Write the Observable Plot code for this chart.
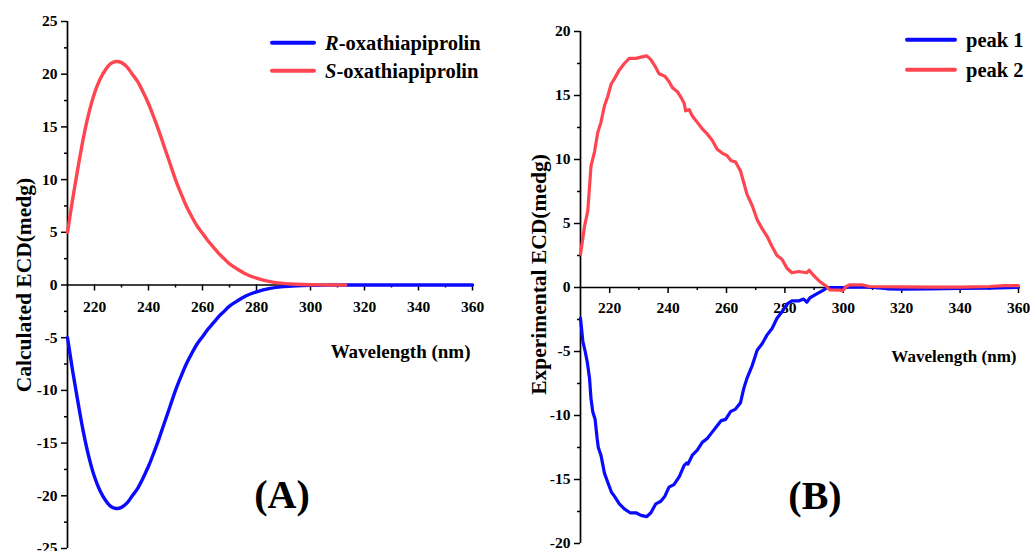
<!DOCTYPE html>
<html><head><meta charset="utf-8">
<script src="https://cdn.jsdelivr.net/npm/d3@7"></script>
<script src="https://cdn.jsdelivr.net/npm/@observablehq/plot@0.6"></script>
<style>
body{margin:0;background:#fff;}
#wrap{position:relative;width:1030px;height:551px;overflow:hidden;font-family:"Liberation Serif","Times New Roman",serif;font-weight:bold;color:#000;}
.panel{position:absolute;top:0;}
.leg{position:absolute;display:flex;align-items:center;font-size:20.5px;font-weight:bold;white-space:nowrap;line-height:1;transform:translateY(-50%);}
.leg .sw{display:inline-block;height:4px;margin-right:9px;border-radius:2px;}
.tag{position:absolute;font-size:40px;font-weight:bold;transform:translate(-50%,-50%);line-height:1;}
</style></head><body><div id="wrap"></div>
<script>
// ---------- data ----------
const xMajor = [220, 240, 260, 280, 300, 320, 340, 360];
const xMinor = [230, 250, 270, 290, 310, 330, 350];
const yMajorA = [-25, -20, -15, -10, -5, 0, 5, 10, 15, 20, 25];
const yMinorA = [-22.5, -17.5, -12.5, -7.5, -2.5, 2.5, 7.5, 12.5, 17.5, 22.5];
const yMajorB = [-20, -15, -10, -5, 0, 5, 10, 15, 20];
const yMinorB = [-17.5, -12.5, -7.5, -2.5, 2.5, 7.5, 12.5, 17.5];

const seriesA = ["R-oxathiapiprolin", "S-oxathiapiprolin"];
const seriesB = ["peak 1", "peak 2"];
const colors = ["#0a0aff", "#ff4550"];

// Calculated ECD (panel A)
const calcWlS = [210,212,214,216,218,220,222,224,226,228,230,232,234,236,238,240,242,244,246,248,250,252,254,256,258,260,262,264,266,268,270,273,276,280,285,290,295,300,305,313];
const calcS   = [5.0,8.3,11.3,14.1,16.4,18.2,19.5,20.4,21.0,21.2,21.1,20.7,20.0,19.3,18.3,17.2,15.9,14.5,13.0,11.5,10.0,8.7,7.5,6.5,5.6,4.9,4.2,3.6,3.0,2.5,2.0,1.5,1.05,0.65,0.32,0.15,0.07,0.03,0.01,0];
const calcWlR = [210,212,214,216,218,220,222,224,226,228,230,232,234,236,238,240,242,244,246,248,250,252,254,256,258,260,262,264,266,268,270,273,276,280,285,290,295,300,305,313,320,340,360];
const calcR   = [-5.0,-8.3,-11.3,-14.1,-16.4,-18.2,-19.5,-20.4,-21.0,-21.2,-21.1,-20.7,-20.0,-19.3,-18.3,-17.2,-15.9,-14.5,-13.0,-11.5,-10.0,-8.7,-7.5,-6.5,-5.6,-4.9,-4.2,-3.6,-3.0,-2.5,-2.0,-1.5,-1.05,-0.65,-0.32,-0.15,-0.07,-0.03,-0.01,0,0,0,0];

// Experimental ECD (panel B)
const expWl1 = [210,210.8,211.6,212.3,213.1,213.6,214.2,215,215.7,216.1,217,218.2,219.3,220.6,221.6,223.3,225,227,229,230.7,232.7,234.1,235.8,237.5,238.9,240.3,242,243.8,245.5,246.4,246.8,248.3,250,251.7,253.4,255.1,256.8,258.2,259.7,261.4,263.1,264.8,265.9,267,268.8,270.5,272.2,273.9,275.6,277.3,279,280.7,282.4,284.7,286.4,287.5,288.6,290.9,293.2,294.5,300,305,310,315,320,330,340,350,360];
const expPeak1 = [-2.4,-4.2,-5.0,-5.8,-7.1,-8.7,-9.7,-10.3,-11.8,-12.5,-13.1,-14.5,-15.2,-16.0,-16.3,-16.9,-17.3,-17.6,-17.6,-17.8,-17.9,-17.6,-16.9,-16.7,-16.3,-15.6,-15.4,-14.8,-13.9,-13.7,-13.8,-13.1,-12.7,-12.1,-11.8,-11.3,-10.8,-10.4,-10.3,-9.7,-9.5,-9.0,-7.9,-7.1,-6.1,-4.9,-4.4,-3.7,-3.2,-2.4,-1.9,-1.3,-1.05,-1.05,-0.9,-1.15,-0.8,-0.5,-0.2,0.0,0.0,0.05,0.0,-0.1,-0.12,-0.1,-0.08,-0.05,0.0];
const expWl2 = [210,211.4,212.5,213.6,214.8,215.9,217,218.2,219.3,220.5,221.6,223.3,225,226.7,229,230.7,232.7,234.1,235.5,236.9,238.9,240.3,241.5,243.2,244.3,245.5,246,247.2,248.3,250,251.7,253.4,255.1,256.8,258.5,260.2,261.6,263.1,264.8,265.9,267,268.8,270.5,272.2,273.9,275.6,277.3,279,280.7,282.4,284.7,287.5,288.3,289.8,291.9,294.2,295.3,298.7,299.8,301,302.1,306.7,308.9,320,330,340,350,355,360];
const expPeak2 = [2.6,4.8,6.0,9.5,10.6,12.1,12.9,14.2,14.9,15.9,16.3,17.0,17.5,17.9,17.9,18.0,18.1,17.8,17.3,16.7,16.5,16.1,15.6,15.3,14.9,14.4,13.8,13.9,13.4,12.9,12.4,12.0,11.5,10.8,10.5,10.3,9.9,9.8,9.1,8.2,7.3,6.4,5.3,4.6,4.0,3.2,2.5,2.2,1.5,1.15,1.25,1.15,1.35,0.95,0.47,0.1,-0.18,-0.2,-0.26,0.08,0.2,0.2,0.08,0.05,0.03,0.03,0.08,0.15,0.15];

// ---------- drawing ----------
const FONT = "'Liberation Serif','Times New Roman',serif";
const toRows = (wl, v) => wl.map((w, i) => ({w, v: v[i]}));
const fmt = d => String(d); // plain hyphen-minus, as in the reference

function panel(o) {
  return Plot.plot({
    width: o.width, height: 551,
    marginLeft: o.ml, marginRight: o.mr, marginTop: o.mt, marginBottom: o.mb,
    style: {fontFamily: FONT, fontWeight: "bold", fontSize: "15.5px", color: "#000", background: "transparent", overflow: "visible"},
    x: {domain: [210, 360], axis: null},
    y: {domain: o.yDomain},
    marks: [
      Plot.axisY(o.yMajor, {tickSize: 6, tickPadding: 4, label: null, strokeWidth: 1.5, fontSize: 15.5, tickFormat: fmt}),
      Plot.axisY(o.yMinor, {tickSize: 3, fill: "none", label: null, strokeWidth: 1.5}),
      Plot.ruleX([210], {stroke: "#000", strokeWidth: 1.7}),
      Plot.ruleY([0], {stroke: "#000", strokeWidth: 1.7}),
      Plot.ruleX(xMajor, {x: d => d, y1: 0, y2: 0, insetBottom: -6, stroke: "#000", strokeWidth: 1.5}),
      Plot.ruleX(xMinor, {x: d => d, y1: 0, y2: 0, insetBottom: -3, stroke: "#000", strokeWidth: 1.5}),
      Plot.text(xMajor, {x: d => d, y: 0, dy: o.tickDy, text: fmt, fontSize: 15.5, fill: "#000"}),
      ...o.lines,
      Plot.text([o.xTitle], {x: 360, y: 0, dy: o.xTitleDy, dx: -2, textAnchor: "end", fontSize: o.xTitleSize, fill: "#000"}),
      Plot.text([o.yTitle], {frameAnchor: "left", textAnchor: "middle", rotate: -90, dx: o.yTitleDx, dy: o.yTitleDy, fontSize: 21.5, fill: "#000"})
    ]
  });
}

const wrap = document.getElementById("wrap");

const left = document.createElement("div");
left.className = "panel"; left.style.left = "0px";
left.appendChild(panel({
  width: 515, ml: 67, mr: 43, mt: 21, mb: 3,
  yDomain: [-25, 25], yMajor: yMajorA, yMinor: yMinorA,
  tickDy: 22, xTitle: "Wavelength (nm)", xTitleDy: 67, xTitleSize: 19,
  yTitle: "Calculated ECD(medg)", yTitleDx: -43, yTitleDy: 0,
  lines: [
    Plot.line(toRows(calcWlR, calcR), {x: "w", y: "v", stroke: colors[0], strokeWidth: 3.4, curve: "catmull-rom"}),
    Plot.line(toRows(calcWlS, calcS), {x: "w", y: "v", stroke: colors[1], strokeWidth: 3.4, curve: "catmull-rom"})
  ]
}));
wrap.appendChild(left);

const right = document.createElement("div");
right.className = "panel"; right.style.left = "515px";
right.appendChild(panel({
  width: 515, ml: 65, mr: 12, mt: 31, mb: 8,
  yDomain: [-20, 20], yMajor: yMajorB, yMinor: yMinorB,
  tickDy: 21, xTitle: "Wavelength (nm)", xTitleDy: 69, xTitleSize: 17,
  yTitle: "Experimental ECD(medg)", yTitleDx: -41, yTitleDy: -13,
  lines: [
    Plot.line(toRows(expWl1, expPeak1), {x: "w", y: "v", stroke: colors[0], strokeWidth: 3.2}),
    Plot.line(toRows(expWl2, expPeak2), {x: "w", y: "v", stroke: colors[1], strokeWidth: 3.2})
  ]
}));
wrap.appendChild(right);

// legends
function legend(x, y, lineW, color, html) {
  const d = document.createElement("div");
  d.className = "leg";
  d.style.left = x + "px"; d.style.top = y + "px";
  d.innerHTML = `<span class="sw" style="width:${lineW}px;background:${color}"></span><span>${html}</span>`;
  wrap.appendChild(d);
}
legend(270, 43, 46, colors[0], "<i>" + seriesA[0][0] + "</i>" + seriesA[0].slice(1));
legend(270, 71, 46, colors[1], "<i>" + seriesA[1][0] + "</i>" + seriesA[1].slice(1));
legend(905, 40, 52, colors[0], seriesB[0]);
legend(905, 70, 52, colors[1], seriesB[1]);

function tag(x, y, t) {
  const d = document.createElement("div");
  d.className = "tag"; d.style.left = x + "px"; d.style.top = y + "px";
  d.textContent = t; wrap.appendChild(d);
}
tag(282, 495, "(A)");
tag(815, 496, "(B)");
</script></body></html>
